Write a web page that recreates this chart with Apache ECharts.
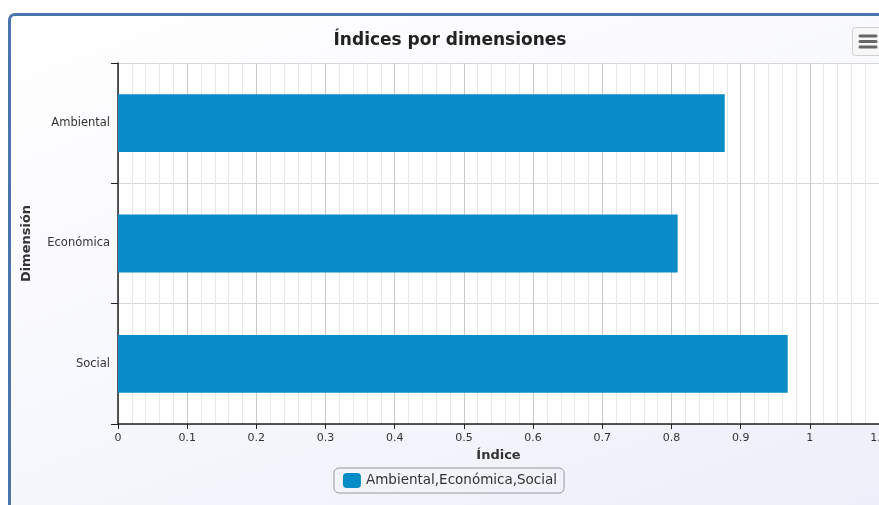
<!DOCTYPE html>
<html>
<head>
<meta charset="utf-8">
<script src="https://cdn.jsdelivr.net/npm/echarts@6/dist/echarts.min.js"></script>
<style>
  html, body { margin: 0; padding: 0; width: 879px; height: 505px; overflow: hidden; background: #ffffff; }
  #frame {
    position: absolute; left: 8px; top: 13px; width: 881px; height: 520px;
    border: 3px solid #4b74ad; border-radius: 7px;
    background: linear-gradient(160deg, #ffffff 0%, #f7f8fd 50%, #eceef9 100%);
  }
  #chart { position: absolute; left: 0; top: 0; width: 878px; height: 489px; }
</style>
</head>
<body>
<div id="frame"><div id="chart"></div></div>
<script>
// Dimension categories and their index values
const dimensiones = ['Ambiental', 'Económica', 'Social'];
const indices = [0.877, 0.809, 0.968];
const serieNombre = 'Ambiental,Económica,Social';

const FONT = '"DejaVu Sans", sans-serif';
const chart = echarts.init(document.getElementById('chart'));

chart.setOption({
  animation: false,
  title: {
    text: 'Índices por dimensiones',
    left: 'center', top: 11,
    textStyle: { fontFamily: FONT, fontSize: 17, fontWeight: 'bold', color: '#222' }
  },
  legend: {
    data: [serieNombre],
    top: 452, left: 'center',
    itemWidth: 18, itemHeight: 15, itemGap: 6,
    padding: [5, 7, 5, 9],
    borderColor: '#999', borderWidth: 1, borderRadius: 5,
    icon: 'roundRect',
    textStyle: { fontFamily: FONT, fontSize: 13.5, color: '#333' }
  },
  grid: {
    left: 107, top: 47, width: 761, height: 361,
    outerBoundsMode: 'none',
    show: true, backgroundColor: '#ffffff', borderWidth: 0
  },
  xAxis: {
    type: 'value', min: 0, max: 1.1, interval: 0.1,
    name: 'Índice', nameLocation: 'middle', nameGap: 15,
    nameTextStyle: { fontFamily: FONT, fontSize: 13, fontWeight: 'bold', color: '#333' },
    axisLine: { show: true, lineStyle: { color: '#222', width: 1.5 } },
    axisTick: { show: true, length: 5, lineStyle: { color: '#222' } },
    axisLabel: {
      fontFamily: FONT, fontSize: 11, color: '#333', margin: 9,
      formatter: v => String(Math.round(v * 10) / 10)
    },
    splitLine: { show: true, lineStyle: { color: '#c8c8c8', width: 1 } },
    minorTick: { show: false, splitNumber: 5 },
    minorSplitLine: { show: true, lineStyle: { color: '#e8e8e8', width: 1 } }
  },
  yAxis: {
    type: 'category', data: dimensiones, inverse: true,
    name: 'Dimensión', nameLocation: 'middle', nameGap: 85, nameRotate: 90,
    nameTextStyle: { fontFamily: FONT, fontSize: 13, fontWeight: 'bold', color: '#333' },
    axisLine: { show: true, lineStyle: { color: '#222', width: 1.5 } },
    axisTick: { show: true, length: 7, lineStyle: { color: '#222' } },
    axisLabel: { fontFamily: FONT, fontSize: 11.5, color: '#333', margin: 8 },
    splitLine: { show: true, lineStyle: { color: '#d6d6d6', width: 1 } }
  },
  graphic: [{
    type: 'group', left: 841, top: 11,
    children: [
      { type: 'rect', shape: { x: 0, y: 0, width: 30, height: 28, r: 3 },
        style: { fill: '#f7f7f7', stroke: '#cfcfcf', lineWidth: 1 } },
      { type: 'rect', shape: { x: 6, y: 7, width: 19, height: 3, r: 1.5 }, style: { fill: '#666' } },
      { type: 'rect', shape: { x: 6, y: 12.5, width: 19, height: 3, r: 1.5 }, style: { fill: '#666' } },
      { type: 'rect', shape: { x: 6, y: 18, width: 19, height: 3, r: 1.5 }, style: { fill: '#666' } }
    ]
  }],
  series: [{
    name: serieNombre,
    type: 'bar',
    data: indices,
    barCategoryGap: '52%',
    itemStyle: { color: '#078cc8' }
  }]
});
</script>
</body>
</html>
